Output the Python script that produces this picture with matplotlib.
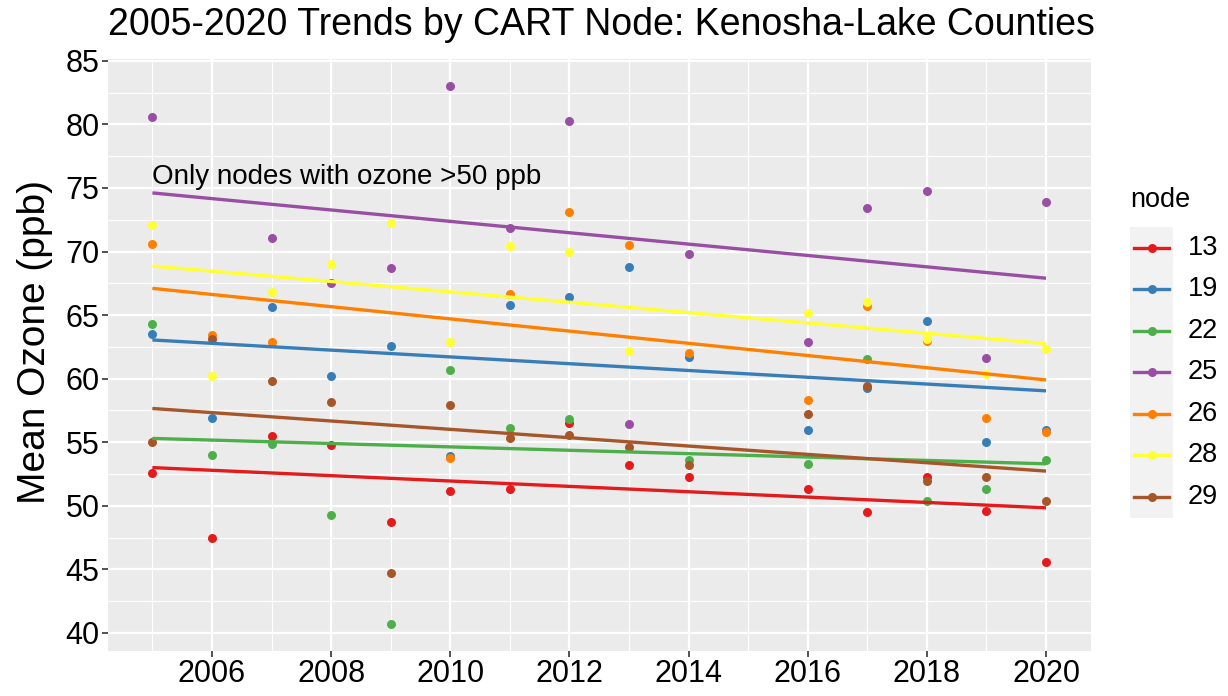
import numpy as np
import matplotlib
matplotlib.use("Agg")
import matplotlib.pyplot as plt
from matplotlib.lines import Line2D
from matplotlib.patches import Rectangle

plt.rcParams['font.family'] = ['Liberation Sans', 'DejaVu Sans']

title = "2005-2020 Trends by CART Node: Kenosha-Lake Counties"
ylabel = "Mean Ozone (ppb)"
note = "Only nodes with ozone >50 ppb"
legend_title = "node"

nodes = ["13", "19", "22", "25", "26", "28", "29"]
colors = ["#E41A1C", "#377EB8", "#4DAF4A", "#984EA3", "#FF7F00", "#FFFF33", "#A65628"]

years_13 = [2005, 2006, 2007, 2008, 2009, 2010, 2011, 2012, 2013, 2014, 2016, 2017, 2018, 2019, 2020]
vals_13 = [52.6, 47.5, 55.5, 54.75, 48.7, 51.2, 51.3, 56.5, 53.2, 52.3, 51.35, 49.5, 52.3, 49.6, 45.6]

years_19 = [2005, 2006, 2007, 2008, 2009, 2010, 2011, 2012, 2013, 2014, 2016, 2017, 2018, 2019, 2020]
vals_19 = [63.55, 56.9, 65.6, 60.2, 62.6, 53.95, 65.8, 66.4, 68.8, 61.7, 56.0, 59.3, 64.5, 55.05, 56.0]

years_22 = [2005, 2006, 2007, 2008, 2009, 2010, 2011, 2012, 2014, 2016, 2017, 2018, 2019, 2020]
vals_22 = [64.3, 54.0, 54.9, 49.3, 40.7, 60.7, 56.15, 56.85, 53.6, 53.3, 61.55, 50.4, 51.3, 53.6]

years_25 = [2005, 2007, 2008, 2009, 2010, 2011, 2012, 2013, 2014, 2016, 2017, 2018, 2019, 2020]
vals_25 = [80.55, 71.1, 67.5, 68.7, 83.05, 71.85, 80.25, 56.4, 69.8, 62.85, 73.4, 74.8, 61.65, 73.9]

years_26 = [2005, 2006, 2007, 2010, 2011, 2012, 2013, 2014, 2016, 2017, 2018, 2019, 2020]
vals_26 = [70.6, 63.45, 62.85, 53.8, 66.7, 73.1, 70.55, 62.05, 58.35, 65.75, 63.0, 56.9, 55.8]

years_28 = [2005, 2006, 2007, 2008, 2009, 2010, 2011, 2012, 2013, 2016, 2017, 2018, 2019, 2020]
vals_28 = [72.1, 60.25, 66.85, 69.05, 72.25, 62.85, 70.4, 70.0, 62.2, 65.15, 66.05, 63.15, 60.35, 62.3]

years_29 = [2005, 2006, 2007, 2008, 2009, 2010, 2011, 2012, 2013, 2014, 2016, 2017, 2018, 2019, 2020]
vals_29 = [55.0, 63.1, 59.85, 58.2, 44.7, 57.9, 55.35, 55.6, 54.6, 53.2, 57.2, 59.45, 51.95, 52.25, 50.4]

series = [
    (years_13, vals_13), (years_19, vals_19), (years_22, vals_22), (years_25, vals_25),
    (years_26, vals_26), (years_28, vals_28), (years_29, vals_29),
]

xticks = [2006, 2008, 2010, 2012, 2014, 2016, 2018, 2020]
yticks = [40, 45, 50, 55, 60, 65, 70, 75, 80, 85]

W, H = 1228, 696
fig = plt.figure(figsize=(W / 100, H / 100), dpi=100)
fig.patch.set_facecolor("white")
ax = fig.add_axes([107.7 / W, 1 - 651 / H, (1090.7 - 107.7) / W, (651 - 58.7) / H])
ax.set_facecolor("#EBEBEB")

# expand like ggplot (5%)
allx = np.concatenate([np.array(s[0]) for s in series])
ally = np.concatenate([np.array(s[1]) for s in series])
xr = allx.max() - allx.min()
yr = ally.max() - ally.min()
ax.set_xlim(allx.min() - 0.05 * xr, allx.max() + 0.05 * xr)
ax.set_ylim(ally.min() - 0.05 * yr, ally.max() + 0.05 * yr)

ax.set_xticks(xticks)
ax.set_xticks([2005, 2007, 2009, 2011, 2013, 2015, 2017, 2019], minor=True)
ax.set_yticks(yticks)
ax.set_yticks([42.5, 47.5, 52.5, 57.5, 62.5, 67.5, 72.5, 77.5, 82.5], minor=True)
ax.grid(which="major", color="white", linewidth=1.6)
ax.grid(which="minor", color="white", linewidth=0.8)
ax.set_axisbelow(True)
for s in ax.spines.values():
    s.set_visible(False)
ax.tick_params(which="major", length=4, width=1.2, color="#333333", labelsize=22,
               labelcolor="black", pad=2)
ax.tick_params(which="minor", length=0)

for (yrs, vals), c in zip(series, colors):
    x = np.array(yrs, dtype=float)
    y = np.array(vals, dtype=float)
    ax.scatter(x, y, s=42, color=c, zorder=3, linewidths=0)
    b, a = np.polyfit(x, y, 1)
    xs = np.array([x.min(), x.max()])
    ax.plot(xs, a + b * xs, color=c, linewidth=2.4, zorder=4, solid_capstyle="butt")

ax.text(2005, 75.35, note, fontsize=20, ha="left", va="baseline", color="black", zorder=5)

ax.set_ylabel(ylabel, fontsize=28)
ax.yaxis.set_label_coords(-0.056, 0.522)
fig.text(108 / W, 1 - 25 / H, title, fontsize=27, ha="left", va="center")

# legend (ggplot style)
key_left, key_w, key_top, key_h = 1130, 43, 227, 41.5
fig.text(key_left / W, 1 - 200 / H, legend_title, fontsize=19.5, ha="left", va="center")
for i, (n, c) in enumerate(zip(nodes, colors)):
    top = key_top + i * key_h
    fig.patches.append(Rectangle((key_left / W, 1 - (top + key_h) / H), key_w / W, key_h / H,
                                 transform=fig.transFigure, facecolor="#F2F2F2", edgecolor="none"))
    yc = 1 - (top + key_h / 2) / H
    fig.lines.append(Line2D([(key_left + 4) / W, (key_left + key_w - 4) / W], [yc, yc],
                            transform=fig.transFigure, color=c, linewidth=2.4))
    fig.lines.append(Line2D([(key_left + key_w / 2) / W], [yc], transform=fig.transFigure,
                            color=c, marker="o", markersize=6.5, markeredgewidth=0))
    fig.text((key_left + key_w + 15) / W, yc, n, fontsize=19.5, ha="left", va="center")

fig.savefig("out.png", dpi=100)
